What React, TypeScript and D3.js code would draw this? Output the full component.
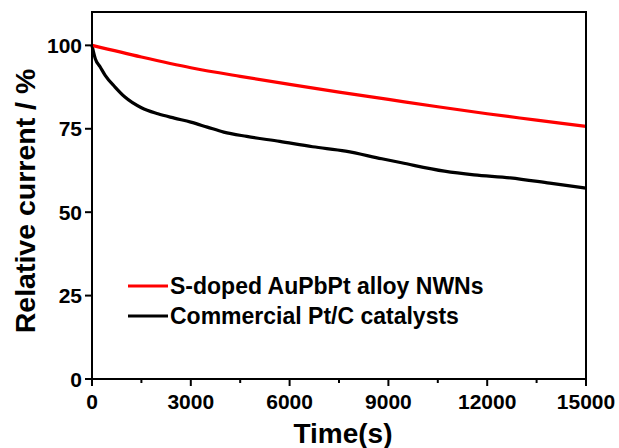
import React from "react";
import * as d3 from "d3";

const redTime = [0, 1500, 3000, 4500, 6000, 7500, 9000, 10500, 12000, 13500, 15000];
const redValue = [100, 96.5, 93.3, 90.7, 88.3, 86.0, 83.8, 81.6, 79.5, 77.6, 75.7];

const blackTime = [0, 100, 250, 400, 700, 1000, 1500, 2000, 2500, 3000, 3500, 4000, 4700, 5700, 6700, 7700, 8800, 9400, 10700, 11600, 12700, 13900, 15000];
const blackValue = [100, 96, 93.5, 91, 87.5, 84.5, 81.3, 79.5, 78.2, 77, 75.5, 74, 72.7, 71.2, 69.6, 68.3, 66, 64.8, 62.3, 61.2, 60.3, 58.7, 57.2];

const xTicks = [0, 3000, 6000, 9000, 12000, 15000];
const xMinorTicks = [1500, 4500, 7500, 10500, 13500];
const yTicks = [0, 25, 50, 75, 100];

const seriesNames = ["S-doped AuPbPt alloy NWNs", "Commercial Pt/C catalysts"];
const seriesColors = ["#ff0000", "#000000"];

export default function App() {
  const W = 619, H = 448;
  const left = 92, right = 586, top = 12, bottom = 379;
  const x = d3.scaleLinear().domain([0, 15000]).range([left, right]);
  const y = d3.scaleLinear().domain([0, 110]).range([bottom, top]);
  const line = d3.line<[number, number]>().x(d => x(d[0])).y(d => y(d[1])).curve(d3.curveMonotoneX);
  const red = redTime.map((t, i) => [t, redValue[i]] as [number, number]);
  const black = blackTime.map((t, i) => [t, blackValue[i]] as [number, number]);
  const font = "'Liberation Sans', Arial, sans-serif";
  return (
    <svg width={W} height={H} style={{ position: "absolute", left: 0, top: 0, background: "#fff" }} fontFamily={font} fontWeight="bold">
      <path d={line(black) || ""} fill="none" stroke={seriesColors[1]} strokeWidth={3.2} />
      <path d={line(red) || ""} fill="none" stroke={seriesColors[0]} strokeWidth={3.2} />
      <rect x={left} y={top} width={right - left} height={bottom - top} fill="none" stroke="#000" strokeWidth={2} />
      {xTicks.map(t => (
        <g key={"x" + t}>
          <line x1={x(t)} x2={x(t)} y1={bottom} y2={bottom + 7} stroke="#000" strokeWidth={2} />
          <text x={x(t)} y={409} textAnchor="middle" fontSize={21}>{t}</text>
        </g>
      ))}
      {xMinorTicks.map(t => (
        <line key={"m" + t} x1={x(t)} x2={x(t)} y1={bottom} y2={bottom + 4} stroke="#000" strokeWidth={2} />
      ))}
      {yTicks.map(v => (
        <g key={"y" + v}>
          <line x1={left - 7} x2={left} y1={y(v)} y2={y(v)} stroke="#000" strokeWidth={2} />
          <text x={82} y={y(v) + 7.5} textAnchor="end" fontSize={21}>{v}</text>
        </g>
      ))}
      <text x={343} y={443} textAnchor="middle" fontSize={28}>Time(s)</text>
      <text transform={`translate(35,201) rotate(-90)`} textAnchor="middle" fontSize={28.5}>Relative current / %</text>
      {seriesNames.map((n, i) => (
        <g key={n}>
          <line x1={128} x2={168} y1={286 + i * 30} y2={286 + i * 30} stroke={seriesColors[i]} strokeWidth={3.2} />
          <text x={170} y={286 + i * 30 + 8} fontSize={23}>{n}</text>
        </g>
      ))}
    </svg>
  );
}
